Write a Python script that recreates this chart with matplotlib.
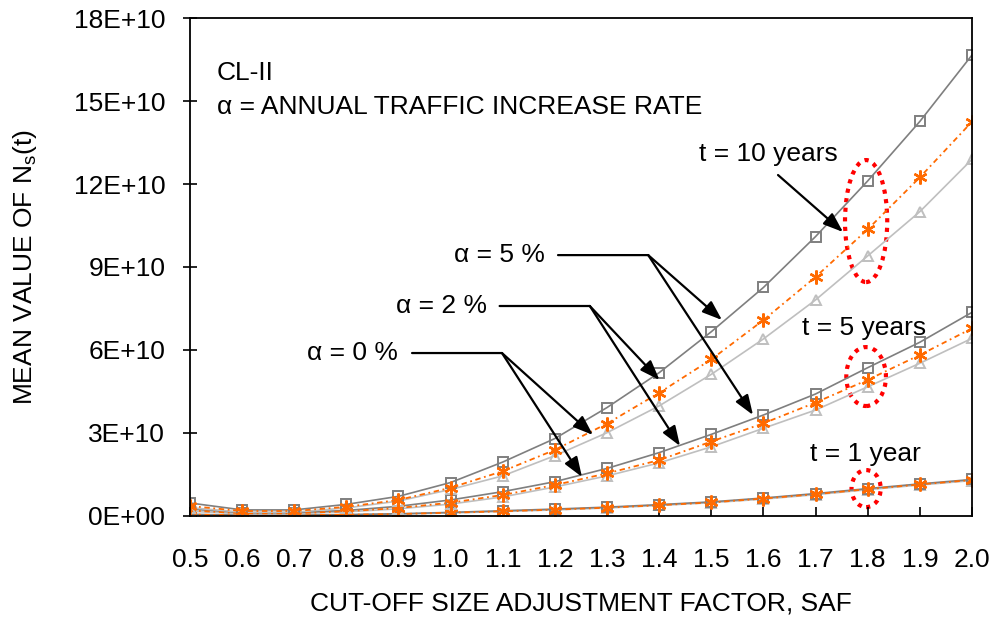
import matplotlib

matplotlib.use("Agg")
import matplotlib.pyplot as plt
from matplotlib.patches import Ellipse

plt.rcParams["font.family"] = ["Liberation Sans", "DejaVu Sans"]
plt.rcParams["mathtext.fontset"] = "custom"
plt.rcParams["mathtext.rm"] = "Liberation Sans"
plt.rcParams["mathtext.it"] = "Liberation Sans:italic"

saf = [0.5, 0.6, 0.7, 0.8, 0.9, 1.0, 1.1, 1.2, 1.3, 1.4, 1.5, 1.6, 1.7, 1.8, 1.9, 2.0]

# mean value of Ns(t), in units of 1E+10
t10_a5 = [0.47, 0.22, 0.22, 0.42, 0.71, 1.21, 1.95, 2.80, 3.92, 5.18, 6.66, 8.26, 10.10, 12.11, 14.26, 16.66]
t10_a2 = [0.36, 0.18, 0.18, 0.33, 0.58, 1.02, 1.62, 2.39, 3.34, 4.45, 5.66, 7.08, 8.64, 10.36, 12.24, 14.25]
t10_a0 = [0.30, 0.14, 0.14, 0.29, 0.54, 0.96, 1.45, 2.18, 3.01, 3.98, 5.12, 6.40, 7.81, 9.40, 11.00, 12.89]

t5_a5 = [0.25, 0.12, 0.12, 0.20, 0.35, 0.58, 0.88, 1.24, 1.72, 2.29, 2.95, 3.65, 4.41, 5.36, 6.28, 7.36]
t5_a2 = [0.20, 0.10, 0.10, 0.17, 0.29, 0.48, 0.76, 1.12, 1.54, 2.02, 2.69, 3.35, 4.10, 4.92, 5.82, 6.78]
t5_a0 = [0.17, 0.08, 0.08, 0.15, 0.26, 0.43, 0.69, 1.05, 1.45, 1.92, 2.50, 3.17, 3.83, 4.67, 5.52, 6.42]

t1_a5 = [0.06, 0.03, 0.03, 0.05, 0.08, 0.13, 0.19, 0.25, 0.32, 0.41, 0.51, 0.65, 0.81, 0.99, 1.16, 1.32]
t1_a2 = [0.05, 0.025, 0.025, 0.045, 0.07, 0.12, 0.17, 0.23, 0.30, 0.39, 0.49, 0.63, 0.79, 0.97, 1.14, 1.30]
t1_a0 = [0.05, 0.02, 0.02, 0.04, 0.07, 0.11, 0.16, 0.22, 0.29, 0.38, 0.48, 0.61, 0.77, 0.95, 1.12, 1.28]

y_ticks = [0, 3, 6, 9, 12, 15, 18]
y_tick_labels = ["0E+00", "3E+10", "6E+10", "9E+10", "12E+10", "15E+10", "18E+10"]

GRAY_DARK = "#7F7F7F"
GRAY_LIGHT = "#BFBFBF"
ORANGE = "#FF6A00"
FS = 19

fig = plt.figure(figsize=(9.93, 6.21), dpi=100)
ax = fig.add_axes([0.1913, 0.1691, 0.7875, 0.8019])

for a0, a2, a5 in [(t1_a0, t1_a2, t1_a5), (t5_a0, t5_a2, t5_a5), (t10_a0, t10_a2, t10_a5)]:
    ax.plot(saf, a0, color=GRAY_LIGHT, lw=1.2, marker="^", ms=7, mfc="none", mec=GRAY_LIGHT, mew=1.4)
    ax.plot(saf, a5, color=GRAY_DARK, lw=1.2, marker="s", ms=6.5, mfc="none", mec=GRAY_DARK, mew=1.4)
    ax.plot(saf, a2, color=ORANGE, lw=1.3, ls=(0, (3, 2, 1, 2)), marker=(6, 2, 0), ms=10, mec=ORANGE, mew=1.7)

# red dotted ellipses at SAF = 1.8
for cy, h, w in [(10.66, 4.41, 0.081), (5.04, 2.13, 0.076), (0.99, 1.34, 0.056)]:
    ax.add_patch(Ellipse((1.797, cy), w, h, fill=False, ec="red", lw=3, ls=(0, (1, 1.3))))

ax.set_xlim(0.5, 2.0)
ax.set_ylim(0, 18)
ax.set_xticks(saf)
ax.set_xticklabels([f"{v:.1f}" for v in saf])
ax.set_yticks(y_ticks)
ax.set_yticklabels(y_tick_labels)
ax.tick_params(axis="x", direction="in", length=6.5, width=1.2, pad=23, labelsize=FS)
ax.tick_params(axis="y", direction="inout", length=9.5, width=1.2, pad=13, labelsize=FS)
for s in ax.spines.values():
    s.set_linewidth(1.3)

ax.set_xlabel("CUT-OFF SIZE ADJUSTMENT FACTOR, SAF", fontsize=FS, labelpad=14)
ax.set_ylabel("MEAN VALUE OF N$_\\mathrm{s}$(t)", fontsize=FS, labelpad=25)

ax.text(0.551, 16.0, "CL-II", fontsize=FS, va="center")
ax.text(0.551, 14.8, "\u03b1 = ANNUAL TRAFFIC INCREASE RATE", fontsize=FS, va="center")

ax.text(1.609, 13.1, "t = 10 years", fontsize=FS, ha="center", va="center")
ax.text(1.793, 6.8, "t = 5 years", fontsize=FS, ha="center", va="center")
ax.text(1.795, 2.25, "t = 1 year", fontsize=FS, ha="center", va="center")

arrow = dict(arrowstyle="-|>,head_length=0.6,head_width=0.22", color="black", lw=1.6,
             mutation_scale=20, shrinkA=0, shrinkB=0)
plain = dict(arrowstyle="-", color="black", lw=1.6, shrinkA=0, shrinkB=0)

# t = 10 years pointer
ax.annotate("", xy=(1.7527, 10.265), xytext=(1.628, 12.325), arrowprops=arrow)

# alpha labels with leader lines and arrows
alpha_labels = [
    ("\u03b1 = 5 %", 1.181, 9.43, 1.206, 1.379, [(1.5205, 7.084), (1.580, 3.651)]),
    ("\u03b1 = 2 %", 1.070, 7.59, 1.094, 1.267, [(1.4007, 4.916), (1.440, 2.53)]),
    ("\u03b1 = 0 %", 0.899, 5.89, 0.926, 1.0985, [(1.273, 2.928), (1.252, 1.41)]),
]
for label, tx, ty, x0, x1, targets in alpha_labels:
    ax.text(tx, ty, label, fontsize=FS, ha="right", va="center")
    ax.annotate("", xy=(x1, ty), xytext=(x0, ty), arrowprops=plain)
    for tgt in targets:
        ax.annotate("", xy=tgt, xytext=(x1, ty), arrowprops=arrow)

fig.savefig("out.png", dpi=100)
plt.close(fig)
